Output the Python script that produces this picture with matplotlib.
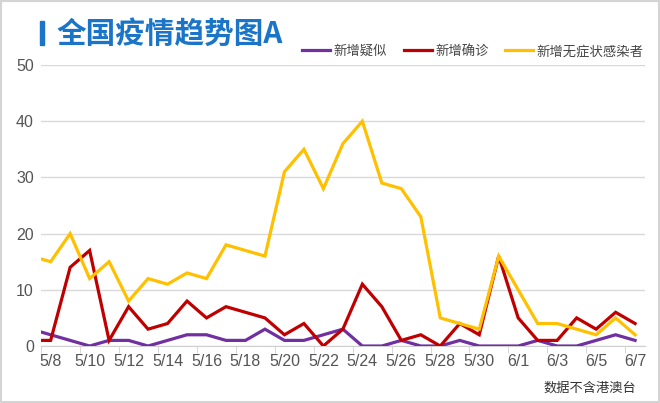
import matplotlib.pyplot as plt
from matplotlib.patches import Rectangle
from matplotlib.ticker import FixedLocator

plt.rcParams['font.family'] = ['Liberation Sans', 'Noto Sans CJK SC', 'DejaVu Sans']

# 5/7 .. 6/7 (5/7 sits left of the visible range and is clipped)
dates = ['5/7'] + [f'5/{d}' for d in range(8, 32)] + [f'6/{d}' for d in range(1, 8)]
suspected = [3, 2, 1, 0, 1, 1, 0, 1, 2, 2, 1, 1, 3, 1, 1, 2, 3, 0, 0, 1, 0, 0, 1, 0, 0, 0, 1, 0, 0, 1, 2, 1]
confirmed = [1, 1, 14, 17, 1, 7, 3, 4, 8, 5, 7, 6, 5, 2, 4, 0, 3, 11, 7, 1, 2, 0, 4, 2, 16, 5, 1, 1, 5, 3, 6, 4]
asymptomatic = [16, 15, 20, 12, 15, 8, 12, 11, 13, 12, 18, 17, 16, 31, 35, 28, 36, 40, 29, 28, 23, 5, 4, 3, 16, 10, 4, 4, 3, 2, 5, 2]
series_names = ['新增疑似', '新增确诊', '新增无症状感染者']
colors = ['#7030a0', '#c00000', '#ffc000']

x = list(range(-1, len(dates) - 1))  # 5/8 -> 0

fig = plt.figure(figsize=(6.6, 4.03), dpi=100)
fig.patches.append(Rectangle((0.002, 0.003), 0.996, 0.994, transform=fig.transFigure,
                             fill=False, edgecolor='#d4d4d4', lw=1.5))

ax = fig.add_axes([0.062, 0.1414, 0.915, 0.6973])
for vals, c, name in zip([suspected, confirmed, asymptomatic], colors, series_names):
    ax.plot(x, vals, color=c, lw=2.3, label=name, solid_joinstyle='miter', zorder=3)

ax.set_xlim(-0.5, 30.5)
ax.set_ylim(0, 50)
ax.set_yticks(range(0, 51, 10))
ax.yaxis.grid(True, color='#d9d9d9', lw=1)
ax.set_axisbelow(True)
for s in ['left', 'right', 'top']:
    ax.spines[s].set_visible(False)
ax.spines['bottom'].set_color('#d0d0d0')
ax.tick_params(axis='y', length=0, pad=5, labelsize=11.5, labelcolor='#555555')

label_pos = list(range(0, 31, 2))
ax.set_xticks(label_pos)
ax.set_xticklabels([dates[i + 1] for i in label_pos])
ax.xaxis.set_minor_locator(FixedLocator([i - 0.5 for i in range(0, 31, 2)]))
ax.tick_params(axis='x', which='major', length=0, pad=5.5, labelsize=11.5, labelcolor='#555555')
ax.tick_params(axis='x', which='minor', length=5, color='#d0d0d0')

# title with left bar
fig.patches.append(Rectangle((40 / 660, 1 - 45 / 403), 4 / 660, 24 / 403,
                             transform=fig.transFigure, color='#1a75c9'))
fig.text(57 / 660, 1 - 34 / 403, '全国疫情趋势图A', fontsize=21.3, fontweight='bold',
         color='#1a75c9', va='center', ha='left', family=['Noto Sans CJK SC', 'DejaVu Sans'])

ax.legend(loc='upper left', bbox_to_anchor=(0.413, 1.117), ncol=3, frameon=False,
          handlelength=2.1, handletextpad=0.25, columnspacing=1.25,
          labelcolor='#444444', prop={'family': ['Noto Sans CJK SC'], 'size': 9.6})

fig.text(636 / 660, 1 - 388 / 403, '数据不含港澳台', fontsize=9.5, color='#333333',
         ha='right', va='center', family=['Noto Sans CJK SC'])

fig.savefig('out.png', dpi=100)
